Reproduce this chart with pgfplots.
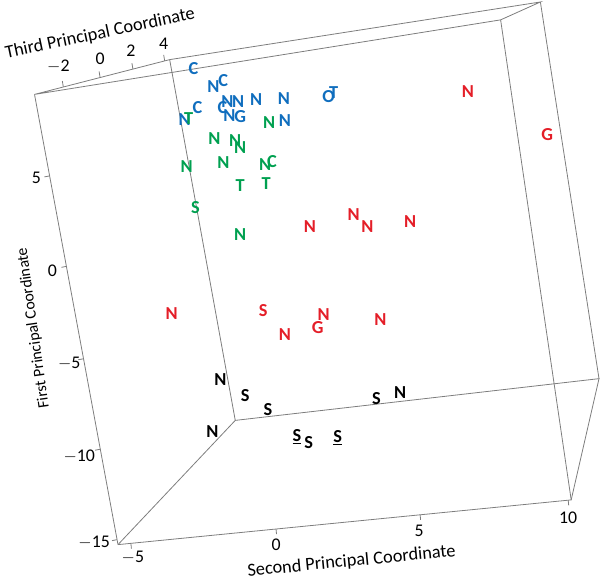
\documentclass[border=0pt]{standalone}
\usepackage{fontspec}
\setmainfont{Carlito}
\usepackage{pgfplots}
\pgfplotsset{compat=1.18}
\definecolor{cblue}{RGB}{16,110,190}
\definecolor{cgreen}{RGB}{0,160,80}
\definecolor{cred}{RGB}{228,30,40}
\definecolor{cgray}{RGB}{125,125,125}
\newcommand{\lf}{\bfseries\fontsize{18.5}{18.5}\selectfont}
\newcommand{\tf}{\fontsize{18}{18}\selectfont}
\begin{document}
\begin{tikzpicture}
\begin{axis}[
  width=600bp, height=580bp, scale only axis,
  xmin=0, xmax=600, ymin=0, ymax=580, y dir=reverse,
  axis line style={draw=none}, xtick=\empty, ytick=\empty,
  clip=false, unbounded coords=jump,
]
% box edges
\addplot[cgray, line width=0.8bp] coordinates {(31,95)(167,60)(540,2)(500,20)(31,95)};
\addplot[cgray, line width=0.8bp] coordinates {(115,548)(233,423)(599,381)(571,503)(115,548)};
\addplot[cgray, line width=0.8bp] coordinates {(31,95)(115,548) (nan,nan) (167,60)(233,423) (nan,nan) (540,2)(599,381) (nan,nan) (500,20)(571,503)};
% ticks
\addplot[cgray, line width=0.8bp] coordinates {
(46.2,177)(41,178) (nan,nan) (63.1,268)(58,269) (nan,nan) (80.3,361)(75,362) (nan,nan) (97.2,452)(92,453) (nan,nan) (114,543)(109,544) (nan,nan)
(60,87.5)(59,81.5) (nan,nan) (97,78)(96,72) (nan,nan) (130,69.5)(129,63.5) (nan,nan) (162,61.3)(161,55.3) (nan,nan)
(128,546.7)(128.5,552) (nan,nan) (274,532.3)(274.5,537.5) (nan,nan) (419,518)(419.5,523) (nan,nan) (568,503.3)(568.5,508.5)};
% tick labels
\node[font=\tf, anchor=center] at (axis cs:33,179) {5};
\node[font=\tf, anchor=center] at (axis cs:49,272) {0};
\node[font=\tf, anchor=center] at (axis cs:66,366) {$-$5};
\node[font=\tf, anchor=center] at (axis cs:76,459) {$-$10};
\node[font=\tf, anchor=center] at (axis cs:91,546) {$-$15};
\node[font=\tf, anchor=center] at (axis cs:55,67) {$-$2};
\node[font=\tf, anchor=center] at (axis cs:97,59) {0};
\node[font=\tf, anchor=center] at (axis cs:128,51) {2};
\node[font=\tf, anchor=center] at (axis cs:161,44) {4};
\node[font=\tf, anchor=center] at (axis cs:130,561) {$-$5};
\node[font=\tf, anchor=center] at (axis cs:274,548) {0};
\node[font=\tf, anchor=center] at (axis cs:418,534) {5};
\node[font=\tf, anchor=center] at (axis cs:568,521) {10};
% axis titles
\node[font=\fontsize{18.5}{18.5}\selectfont, rotate=12, anchor=center] at (axis cs:97,34) {Third Principal Coordinate};
\node[font=\fontsize{16}{16}\selectfont, rotate=98, anchor=center] at (axis cs:30,330) {First Principal Coordinate};
\node[font=\fontsize{18.5}{18.5}\selectfont, rotate=5.5, anchor=center] at (axis cs:350,565) {Second Principal Coordinate};
% blue
\addplot[draw=none, cblue, nodes near coords, point meta=explicit symbolic,
  nodes near coords style={anchor=center, font=\lf, text=cblue}] table[meta=l] {
x y l
191 69 C
211 87 N
221 81 C
225 102 N
236 102 N
254 100 N
282 99 N
195 108 C
220 108 C
227 116 N
238 117 G
182 120 N
283 121 N
327 97 O
332 93 T
};
% green
\addplot[draw=none, cgreen, nodes near coords, point meta=explicit symbolic,
  nodes near coords style={anchor=center, font=\lf, text=cgreen}] table[meta=l] {
x y l
186 119 T
267 123 N
212 139 N
233 141 N
238 148 N
184 168 N
221 164 N
263 166 N
270 163 C
238 187 T
264 185 T
193 209 S
238 236 N
};
% red
\addplot[draw=none, cred, nodes near coords, point meta=explicit symbolic,
  nodes near coords style={anchor=center, font=\lf, text=cred}] table[meta=l] {
x y l
467 92 N
547 135 G
308 228 N
352 216 N
366 228 N
409 223 N
169 316 N
261 312 S
283 337 N
322 317 N
316 330 G
379 322 N
};
% black
\addplot[draw=none, black, nodes near coords, point meta=explicit symbolic,
  nodes near coords style={anchor=center, font=\lf, text=black}] table[meta=l] {
x y l
218 382 N
243 398 S
266 412 S
375 401 S
399 395 N
210 434 N
295 439 \underline{S}
307 445 S
336 440 \underline{S}
};
\end{axis}
\end{tikzpicture}
\end{document}
